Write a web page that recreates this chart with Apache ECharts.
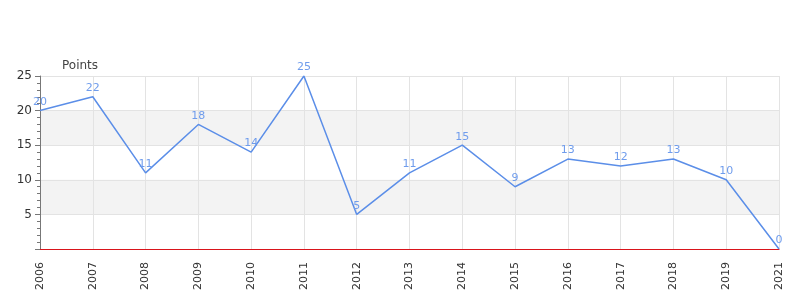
<!DOCTYPE html>
<html>
<head>
<meta charset="utf-8">
<script src="https://cdn.jsdelivr.net/npm/echarts@6/dist/echarts.min.js"></script>
<style>html,body{margin:0;padding:0;background:#fff}#c{width:800px;height:300px}</style>
</head>
<body>
<div id="c"></div>
<script>
var categories = ['2006','2007','2008','2009','2010','2011','2012','2013','2014','2015','2016','2017','2018','2019','2021'];
var points = [20,22,11,18,14,25,5,11,15,9,13,12,13,10,0];
var yTicks = [0,5,10,15,20,25];

var chart = echarts.init(document.getElementById('c'), null, {renderer:'canvas'});
chart.setOption({
  animation:false,
  textStyle:{fontFamily:'DejaVu Sans'},
  grid:{left:40,right:21,top:76,bottom:51,containLabel:false},
  xAxis:{
    type:'category', data:categories, boundaryGap:false,
    axisLine:{show:true,lineStyle:{color:'#d9141b',width:1.2}},
    axisTick:{show:false},
    axisLabel:{rotate:90,color:'#333',fontSize:11,margin:13,interval:0},
    splitLine:{show:true,lineStyle:{color:'#e3e3e3',width:1}}
  },
  yAxis:{
    type:'value', min:yTicks[0], max:yTicks[yTicks.length-1], interval:5,
    name:'Points', nameLocation:'end', nameGap:4,
    nameTextStyle:{color:'#444',fontSize:12,align:'left',padding:[0,0,0,22]},
    axisLine:{show:true,lineStyle:{color:'#777'}},
    axisTick:{show:true,length:5,lineStyle:{color:'#777'}},
    minorTick:{show:true,splitNumber:5,length:3,lineStyle:{color:'#777'}},
    axisLabel:{color:'#333',fontSize:12,margin:8,showMinLabel:false},
    splitLine:{show:true,lineStyle:{color:'#e3e3e3'}},
    splitArea:{show:true,areaStyle:{color:['rgba(255,255,255,0)','#f3f3f3']}}
  },
  series:[{
    type:'line', data:points, showSymbol:true, symbol:'circle', symbolSize:0,
    lineStyle:{color:'#5b8ee8',width:1.5},
    itemStyle:{color:'#5b8ee8'},
    label:{show:true,position:'top',color:'#6f9cec',fontSize:11,distance:3},
    z:5
  }]
});
</script>
</body>
</html>
